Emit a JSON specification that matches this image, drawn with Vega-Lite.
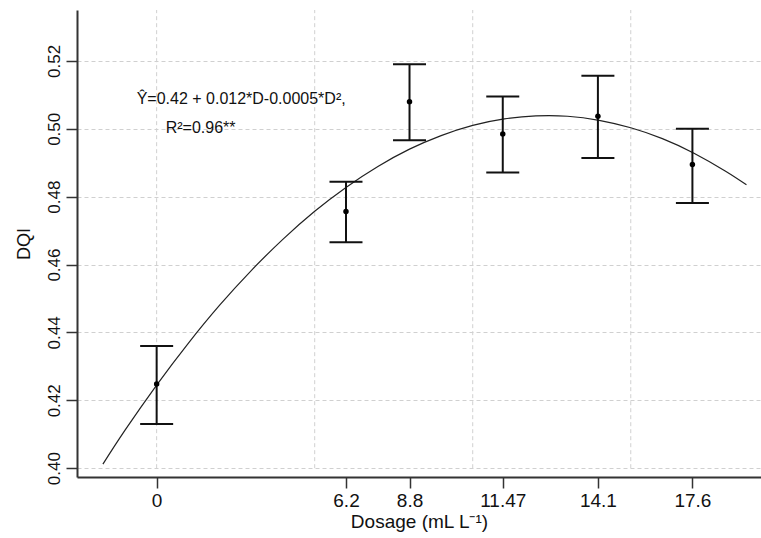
{
  "$schema": "https://vega.github.io/schema/vega-lite/v6.json",
  "width": 684,
  "height": 467,
  "autosize": {"type": "none"},
  "padding": {"left": 77, "top": 10, "right": 0, "bottom": 61},
  "background": "white",
  "config": {"view": {"stroke": null}, "font": "Liberation Sans"},
  "datasets": {
    "pts": [
      {"dose": 0, "dqi": 0.4248, "lo": 0.4130, "hi": 0.4360},
      {"dose": 5.99, "dqi": 0.4756, "lo": 0.4666, "hi": 0.4844},
      {"dose": 8.0, "dqi": 0.5080, "lo": 0.4966, "hi": 0.5190},
      {"dose": 10.95, "dqi": 0.4985, "lo": 0.4871, "hi": 0.5095},
      {"dose": 13.96, "dqi": 0.5037, "lo": 0.4914, "hi": 0.5156},
      {"dose": 16.95, "dqi": 0.4895, "lo": 0.4781, "hi": 0.5000}
    ],
    "curve": [
      {"d": -1.7, "v": 0.4012}, {"d": -1, "v": 0.4112}, {"d": 0, "v": 0.4245},
      {"d": 1, "v": 0.4368}, {"d": 2, "v": 0.4481}, {"d": 3, "v": 0.4583},
      {"d": 4, "v": 0.4675}, {"d": 5, "v": 0.4757}, {"d": 6, "v": 0.4828},
      {"d": 7, "v": 0.4889}, {"d": 8, "v": 0.4940}, {"d": 9, "v": 0.4980},
      {"d": 10, "v": 0.5010}, {"d": 11, "v": 0.5029}, {"d": 12, "v": 0.5038},
      {"d": 13, "v": 0.5037}, {"d": 14, "v": 0.5025}, {"d": 15, "v": 0.5003},
      {"d": 16, "v": 0.4971}, {"d": 17, "v": 0.4928}, {"d": 18, "v": 0.4875},
      {"d": 18.66, "v": 0.4835}
    ],
    "grid": [{"g": 0}, {"g": 5}, {"g": 10}, {"g": 15}],
    "notes": [
      {"x": -0.633, "y": 0.5073, "label": "Ŷ=0.42 + 0.012*D-0.0005*D²,"},
      {"x": 0.285, "y": 0.4988, "label": "R²=0.96**"}
    ]
  },
  "layer": [
    {
      "data": {"name": "grid"},
      "mark": {"type": "rule", "color": "#d0d0d0", "strokeDash": [4, 3], "strokeWidth": 1},
      "encoding": {
        "x": {
          "field": "g", "type": "quantitative",
          "scale": {"domain": [-2.52, 19.12], "nice": false, "zero": false},
          "axis": {
            "values": [0, 5.99, 8.0, 10.95, 13.96, 16.95],
            "labelExpr": "datum.value < 3 ? '0' : datum.value < 7 ? '6.2' : datum.value < 9.5 ? '8.8' : datum.value < 12.5 ? '11.47' : datum.value < 15.5 ? '14.1' : '17.6'",
            "grid": false,
            "tickSize": 11, "tickColor": "#333", "tickWidth": 1.5,
            "domainColor": "#333", "domainWidth": 2,
            "labelFontSize": 19, "labelColor": "#111", "labelPadding": 3, "labelFlush": false,
            "title": "Dosage (mL L⁻¹)", "titleFontSize": 19, "titleFontWeight": "normal",
            "titleColor": "#111", "titlePadding": 2
          }
        },
        "y": {
          "datum": 0.40, "type": "quantitative",
          "scale": {"domain": [0.3974, 0.535], "nice": false, "zero": false},
          "axis": {
            "values": [0.40, 0.42, 0.44, 0.46, 0.48, 0.50, 0.52],
            "format": ".2f",
            "grid": true, "gridColor": "#d0d0d0", "gridDash": [4, 3], "gridWidth": 1,
            "tickSize": 11, "tickColor": "#333", "tickWidth": 1.5,
            "domainColor": "#333", "domainWidth": 2,
            "labelAngle": -90, "labelFontSize": 17, "labelColor": "#111", "labelPadding": 3,
            "title": "DQI", "titleFontSize": 18, "titleFontWeight": "normal",
            "titleColor": "#111", "titlePadding": 12
          }
        },
        "y2": {"datum": 0.535}
      }
    },
    {
      "mark": {"type": "rule", "color": "#333", "strokeWidth": 2},
      "encoding": {"y": {"datum": 0.535, "type": "quantitative"}}
    },
    {
      "data": {"name": "curve"},
      "mark": {"type": "line", "color": "#222", "strokeWidth": 1.2, "interpolate": "natural"},
      "encoding": {
        "x": {"field": "d", "type": "quantitative"},
        "y": {"field": "v", "type": "quantitative"}
      }
    },
    {
      "data": {"name": "pts"},
      "mark": {"type": "rule", "color": "#111", "strokeWidth": 2},
      "encoding": {
        "x": {"field": "dose", "type": "quantitative"},
        "y": {"field": "lo", "type": "quantitative"},
        "y2": {"field": "hi"}
      }
    },
    {
      "data": {"name": "pts"},
      "mark": {"type": "tick", "orient": "horizontal", "size": 33, "thickness": 2, "color": "#111", "opacity": 1},
      "encoding": {
        "x": {"field": "dose", "type": "quantitative"},
        "y": {"field": "hi", "type": "quantitative"}
      }
    },
    {
      "data": {"name": "pts"},
      "mark": {"type": "tick", "orient": "horizontal", "size": 33, "thickness": 2, "color": "#111", "opacity": 1},
      "encoding": {
        "x": {"field": "dose", "type": "quantitative"},
        "y": {"field": "lo", "type": "quantitative"}
      }
    },
    {
      "data": {"name": "pts"},
      "mark": {"type": "point", "filled": true, "size": 30, "color": "#000", "opacity": 1},
      "encoding": {
        "x": {"field": "dose", "type": "quantitative"},
        "y": {"field": "dqi", "type": "quantitative"}
      }
    },
    {
      "data": {"name": "notes"},
      "mark": {"type": "text", "align": "left", "baseline": "alphabetic", "fontSize": 16, "color": "#111"},
      "encoding": {
        "x": {"field": "x", "type": "quantitative"},
        "y": {"field": "y", "type": "quantitative"},
        "text": {"field": "label"}
      }
    }
  ]
}
